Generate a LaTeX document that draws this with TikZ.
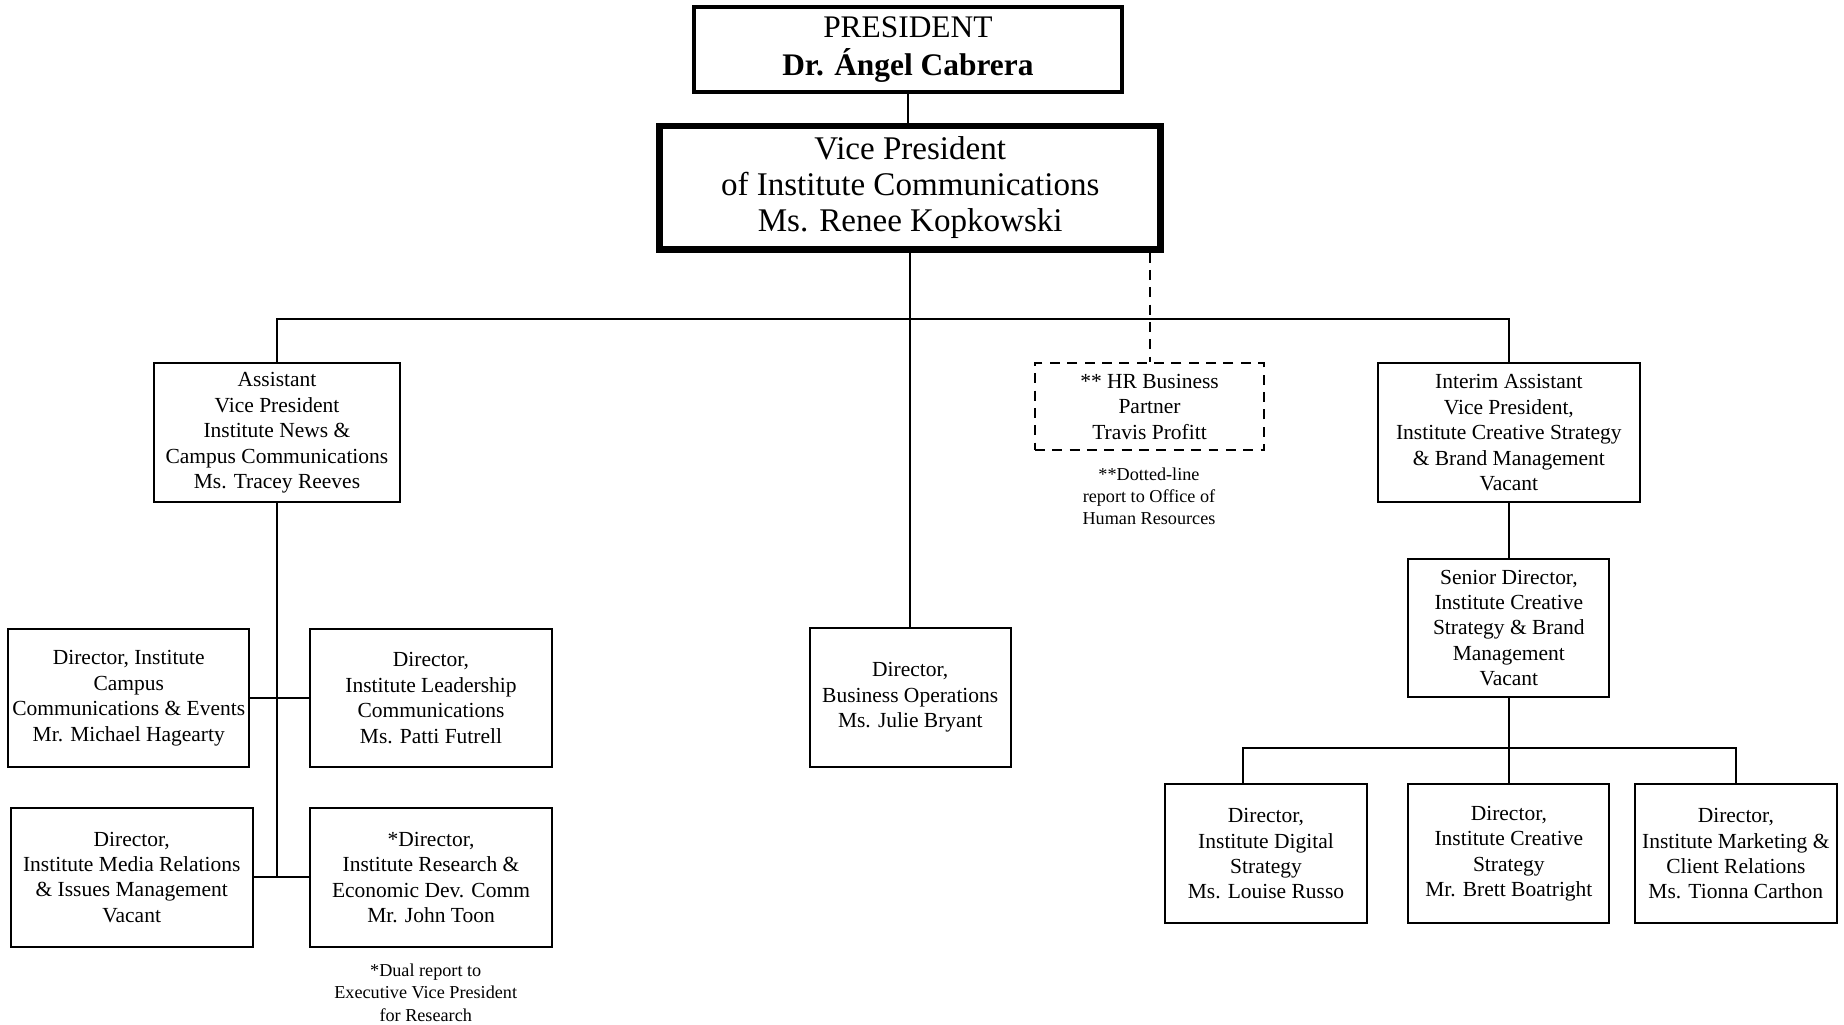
\documentclass[tikz,border=0pt]{standalone}
\usepackage{fontspec}
\setmainfont{Liberation Serif}
\begin{document}
\begin{tikzpicture}[
    unit/.style={rectangle,draw,line width=1.2pt,align=center,inner sep=0pt,
      minimum height=2.95cm,font=\fontsize{13}{15.4}\selectfont},
    hrunit/.style={unit,dash pattern=on 6pt off 4.5pt,minimum height=1.85cm},
    remark/.style={align=center,inner sep=0pt,font=\fontsize{11}{13.5}\selectfont},
    link/.style={line width=1.2pt}]
  \useasboundingbox (0,0) rectangle (39.2,-21.775);
  % top of the office
  \node[rectangle,draw,line width=2.4pt,minimum width=9.1cm,minimum height=1.8cm,
    align=center,font=\fontsize{19}{22.7}\selectfont] (president) at (19.3,-1.05)
    {PRESIDENT\\\textbf{Dr. Ángel Cabrera}};
  \node[rectangle,draw,line width=4pt,minimum width=10.65cm,minimum height=2.625cm,
    align=center,font=\fontsize{20}{22}\selectfont] (vp) at (19.35,-3.9875)
    {Vice President\\of Institute Communications\\Ms. Renee Kopkowski};
  \draw[link] (president.south) -- (president.south |- vp.north);
  % first level
  \node[unit,minimum width=5.225cm] (newsavp) at (5.8875,-9.2)
    {Assistant\\Vice President\\Institute News \&\\Campus Communications\\Ms. Tracey Reeves};
  \node[unit,minimum width=4.275cm] (busops) at (19.35,-14.825)
    {Director,\\Business Operations\\Ms. Julie Bryant};
  \node[hrunit,minimum width=4.875cm] (hr) at (24.4375,-8.65)
    {** HR Business\\Partner\\Travis Profitt};
  \node[remark] (hrnote) at (24.425,-10.55)
    {**Dotted-line\\report to Office of\\Human Resources};
  \node[unit,minimum width=5.575cm] (brandavp) at (32.075,-9.2)
    {Interim Assistant\\Vice President,\\Institute Creative Strategy\\\& Brand Management\\Vacant};
  \coordinate (bus) at (19.35,-6.775);
  \draw[link] (newsavp.north) |- (bus) -| (brandavp.north);
  \draw[link] (vp.south) -- (busops.north);
  \draw[link,dash pattern=on 6pt off 4.5pt] (hr.north |- vp.south) -- (hr.north);
  % news and campus communications
  \node[unit,minimum width=5.125cm] (campus) at (2.7375,-14.84)
    {Director, Institute\\Campus\\Communications \& Events\\Mr. Michael Hagearty};
  \node[unit,minimum width=5.125cm] (leadership) at (9.1625,-14.84)
    {Director,\\Institute Leadership\\Communications\\Ms. Patti Futrell};
  \node[unit,minimum width=5.15cm] (media) at (2.8,-18.65)
    {Director,\\Institute Media Relations\\\& Issues Management\\Vacant};
  \node[unit,minimum width=5.125cm] (research) at (9.1625,-18.65)
    {*Director,\\Institute Research \&\\Economic Dev. Comm\\Mr. John Toon};
  \node[remark] (resnote) at (9.05,-21.1)
    {*Dual report to\\Executive Vice President\\for Research};
  \draw[link] (newsavp.south) -- (newsavp.south |- research.west);
  \draw[link] (campus.east) -- (leadership.west);
  \draw[link] (media.east) -- (research.west);
  % creative strategy and brand
  \node[unit,minimum width=4.275cm] (senior) at (32.075,-13.35)
    {Senior Director,\\Institute Creative\\Strategy \& Brand\\Management\\Vacant};
  \node[unit,minimum width=4.275cm] (digital) at (26.9125,-18.15)
    {Director,\\Institute Digital\\Strategy\\Ms. Louise Russo};
  \node[unit,minimum width=4.275cm] (creative) at (32.075,-18.15)
    {Director,\\Institute Creative\\Strategy\\Mr. Brett Boatright};
  \node[unit,minimum width=4.3cm] (marketing) at (36.9,-18.15)
    {Director,\\Institute Marketing \&\\Client Relations\\Ms. Tionna Carthon};
  \coordinate (subbus) at (32.075,-15.9);
  \draw[link] (brandavp.south) -- (senior.north);
  \draw[link] (senior.south) -- (creative.north);
  \draw[link] ([xshift=-0.4875cm]digital.north) |- (subbus) -| (marketing.north);
\end{tikzpicture}
\end{document}
